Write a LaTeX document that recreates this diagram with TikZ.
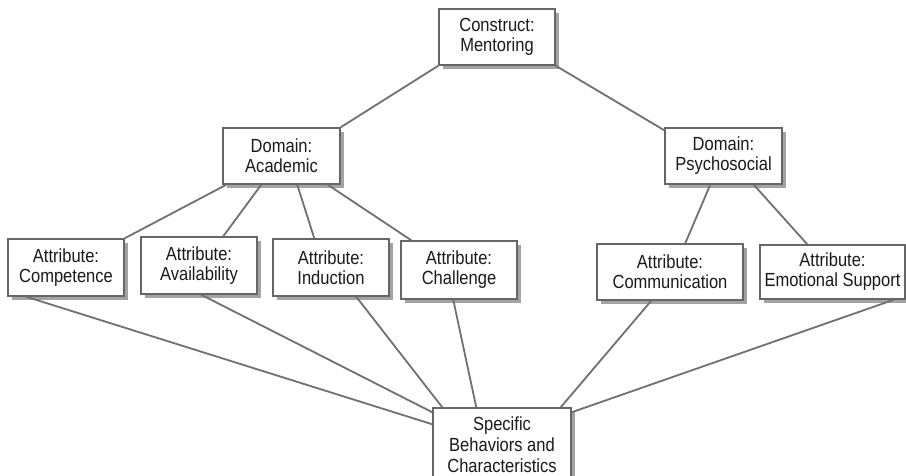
\documentclass[tikz,border=0pt]{standalone}
\usepackage{fontspec}
\setmainfont[FakeStretch=0.87]{Liberation Sans}
\usetikzlibrary{shadows}
\definecolor{boxline}{HTML}{666666}
\definecolor{conn}{HTML}{707070}
\definecolor{shade}{HTML}{A3A3A3}
\definecolor{txt}{HTML}{1A1A1A}
\begin{document}
\begin{tikzpicture}[x=1pt,y=-1pt,
  box/.style={draw=boxline, line width=1.5pt, fill=white, align=center,
    inner sep=0pt, text=txt,
    font=\fontsize{19}{20}\selectfont,
    drop shadow={shadow xshift=4pt, shadow yshift=-4pt, fill=shade, opacity=1}},
  link/.style={draw=conn, line width=1.8pt}]
\useasboundingbox (0,0) rectangle (906,475);
\fill[white] (0,0) rectangle (906,475);

\node[box, minimum width=116pt, minimum height=56pt] (construct) at (497,37) {Construct:\\Mentoring};
\node[box, minimum width=117pt, minimum height=56pt] (academic) at (281.5,156) {Domain:\\Academic};
\node[box, minimum width=117pt, minimum height=56pt] (psycho) at (723.5,156) {Domain:\\Psychosocial};

\node[box, minimum width=116pt, minimum height=57pt] (competence) at (66,267.5) {Attribute:\\Competence};
\node[box, minimum width=116pt, minimum height=57pt] (availability) at (199,265.5) {Attribute:\\Availability};
\node[box, minimum width=116pt, minimum height=57pt] (induction) at (331,267.5) {Attribute:\\Induction};
\node[box, minimum width=116pt, minimum height=58pt] (challenge) at (459,270) {Attribute:\\Challenge};
\node[box, minimum width=146pt, minimum height=56pt] (communication) at (670,272) {Attribute:\\Communication};
\node[box, minimum width=145pt, minimum height=54pt] (emotional) at (832.5,272) {Attribute:\\Emotional Support};

\node[box, minimum width=138pt, minimum height=74pt, font=\fontsize{19}{21}\selectfont] (specific) at (502,445) {Specific\\Behaviors and\\Characteristics};

% connectors
\draw[link] (construct.south west) -- (academic.north east);
\draw[link] (construct.south east) -- ([yshift=-3pt]psycho.north west);

\draw[link] ([xshift=4pt]academic.south west) -- (competence.north east);
\draw[link] ([xshift=39pt]academic.south west) -- ([xshift=83pt]availability.north west);
\draw[link] ([xshift=75pt]academic.south west) -- ([xshift=42pt]induction.north west);
\draw[link] ([xshift=-13pt]academic.south east) -- ([xshift=11pt]challenge.north west);

\draw[link] ([xshift=46pt]psycho.south west) -- ([xshift=89pt]communication.north west);
\draw[link] ([xshift=-29pt]psycho.south east) -- ([xshift=48pt]emotional.north west);

\draw[link] ([xshift=19pt]competence.south west) -- ([yshift=-17pt]specific.north west);
\draw[link] ([xshift=61pt]availability.south west) -- ([yshift=-5pt]specific.north west);
\draw[link] ([xshift=84pt]induction.south west) -- ([xshift=10pt]specific.north west);
\draw[link] ([xshift=53pt]challenge.south west) -- ([xshift=44pt]specific.north west);
\draw[link] ([xshift=55pt]communication.south west) -- ([xshift=-11pt]specific.north east);
\draw[link] ([xshift=-12pt]emotional.south east) -- ([yshift=-5pt]specific.north east);
\end{tikzpicture}
\end{document}
